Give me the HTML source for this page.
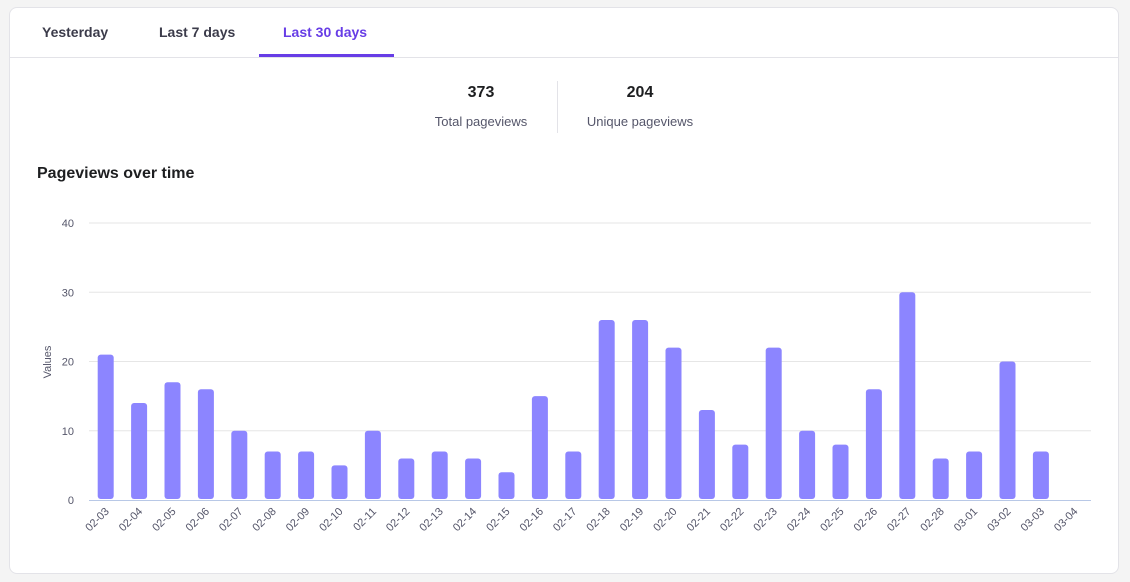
<!DOCTYPE html>
<html><head><meta charset="utf-8"><style>
body{margin:0;background:#f4f4f4;font-family:"Liberation Sans",sans-serif;width:1130px;height:582px;overflow:hidden;position:relative}
.card{position:absolute;left:9px;top:7px;width:1108px;height:565px;background:#fff;border:1px solid #e3e3e8;border-radius:8px}
.tabs{position:absolute;left:0;top:0;width:1108px;height:49px;border-bottom:1px solid #e3e3e8}
.tab{position:absolute;top:16px;font-size:14px;font-weight:bold;color:#3b3b4a}
.tab.active{color:#673de6}
.ul{position:absolute;left:249px;top:46px;width:135px;height:3px;background:#673de6}
.stat{position:absolute;text-align:center;width:160px}
.num{font-size:16px;font-weight:bold;color:#1d1e20}
.lbl{font-size:13px;color:#55566a;margin-top:12px}
.title{position:absolute;left:27px;top:157px;font-size:16px;font-weight:bold;color:#1d1e20}
svg{position:absolute;left:0;top:0}
</style></head><body>
<div class="card">
<div class="tabs">
<div class="tab" style="left:32px">Yesterday</div>
<div class="tab" style="left:149px">Last 7 days</div>
<div class="tab active" style="left:273px">Last 30 days</div>
<div class="ul"></div>
</div>
<div class="stat" style="left:391px;top:76px"><div class="num">373</div><div class="lbl">Total pageviews</div></div>
<div style="position:absolute;left:547px;top:73px;width:1px;height:52px;background:#e3e3e8"></div>
<div class="stat" style="left:550px;top:76px"><div class="num">204</div><div class="lbl">Unique pageviews</div></div>
<div class="title">Pageviews over time</div>
</div>
<svg id="chart" width="1130" height="582"></svg>
<script>
const categories=["02-03","02-04","02-05","02-06","02-07","02-08","02-09","02-10","02-11","02-12","02-13","02-14","02-15","02-16","02-17","02-18","02-19","02-20","02-21","02-22","02-23","02-24","02-25","02-26","02-27","02-28","03-01","03-02","03-03","03-04"];
const values=[21,14,17,16,10,7,7,5,10,6,7,6,4,15,7,26,26,22,13,8,22,10,8,16,30,6,7,20,7,0];
const yTicks=[0,10,20,30,40];
const NS="http://www.w3.org/2000/svg";
const svg=document.getElementById('chart');
const x0=89,x1=1091,y0=500,y1=223,yMax=40;
const band=(x1-x0)/categories.length;
const xC=i=>x0+band*(i+0.5);
const yS=v=>y0-(v/yMax)*(y0-y1);
function mk(t,a){const e=document.createElementNS(NS,t);for(const k in a)e.setAttribute(k,a[k]);svg.appendChild(e);return e;}
yTicks.forEach(t=>{
  if(t>0){const g=mk('line',{x1:x0,x2:x1,y1:yS(t),y2:yS(t),stroke:'#e6e6e6','stroke-width':1});
  
  }
  const l=mk('text',{x:74,y:yS(t)+4,'text-anchor':'end','font-size':11,fill:'#55566a','font-family':'Liberation Sans, sans-serif'});
  l.textContent=t;
  
  
});
const ax=mk('line',{x1:x0,x2:x1,y1:y0+0.5,y2:y0+0.5,stroke:'#b8c8e6','stroke-width':1});


const yt=mk('text',{x:0,y:0,transform:'translate(51,362) rotate(-90)','text-anchor':'middle','font-size':11,fill:'#55566a','font-family':'Liberation Sans, sans-serif'});
yt.textContent='Values';


values.forEach((v,i)=>{
  const cx=xC(i);
  if(v>0){const h=yS(0)-yS(v)-1;
  const b=mk('rect',{x:cx-8,y:yS(v),width:16,height:h,rx:3,ry:3,fill:'#8c85ff'});
  
  }
  const l=mk('text',{x:0,y:0,transform:`translate(${cx+4},${y0+12}) rotate(-45)`,'text-anchor':'end','font-size':11,fill:'#55566a','font-family':'Liberation Sans, sans-serif'});
  l.textContent=categories[i];
  
  
});
</script>
</body></html>
